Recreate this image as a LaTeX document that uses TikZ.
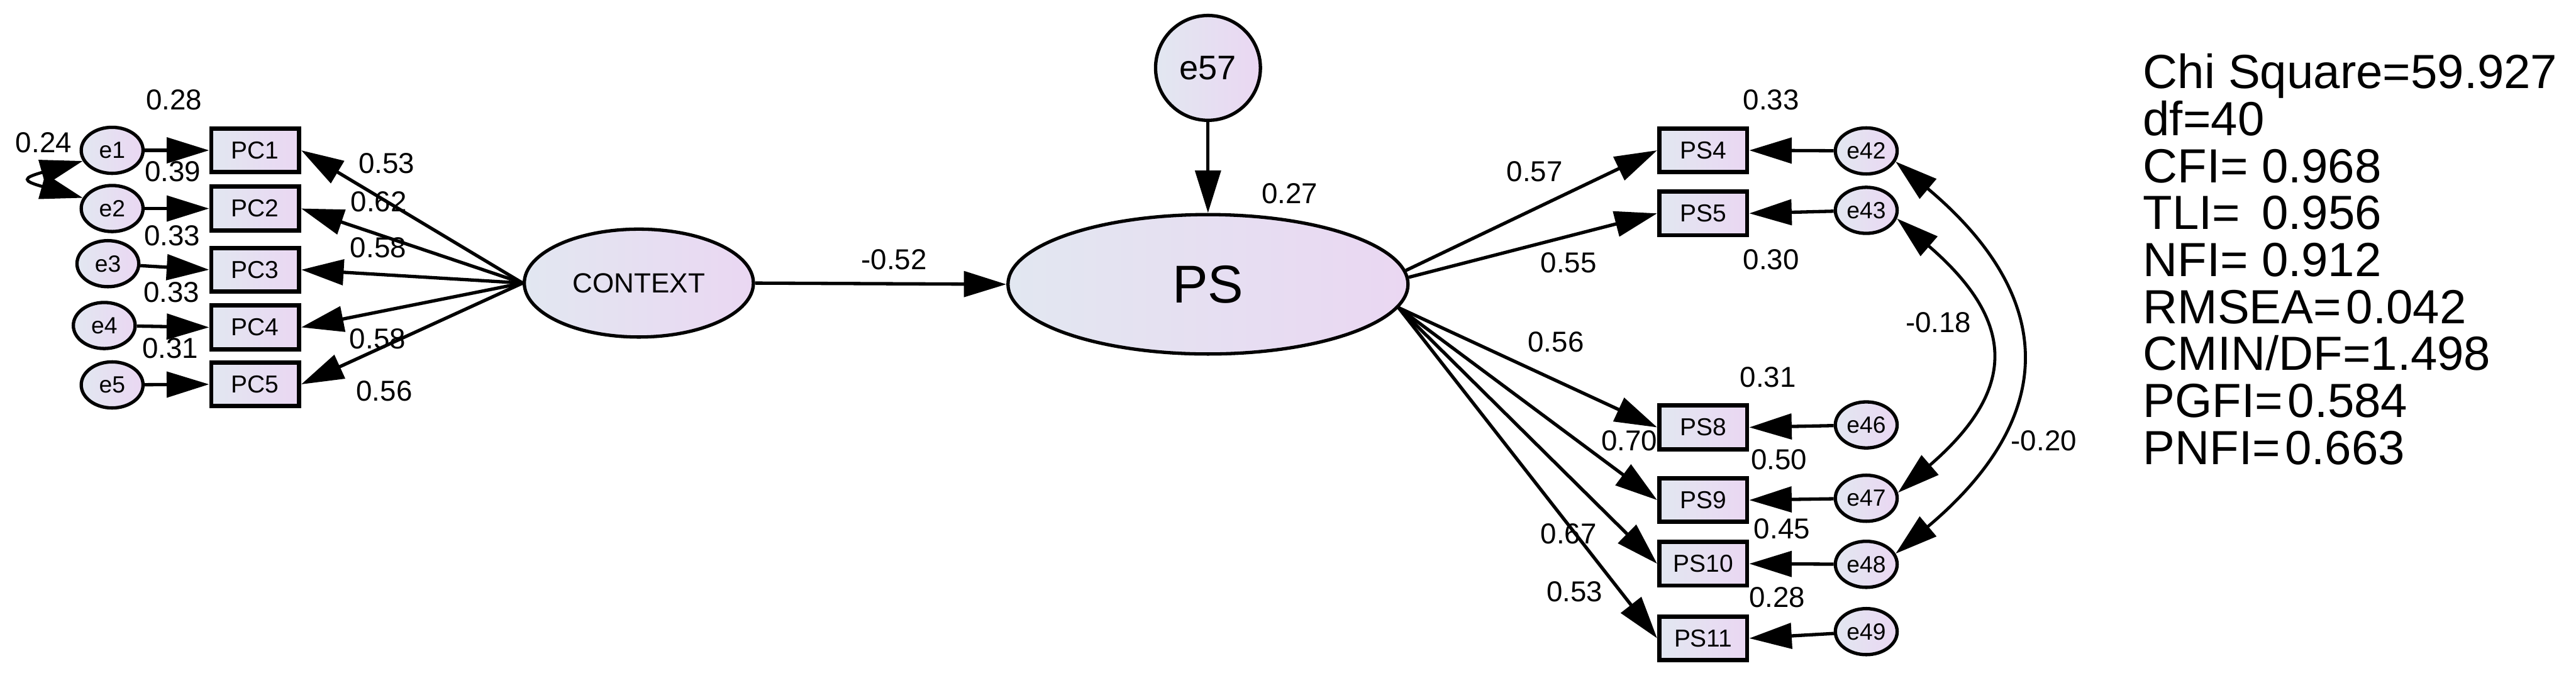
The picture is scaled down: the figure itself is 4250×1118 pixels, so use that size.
\documentclass[tikz,border=0pt]{standalone}
\usepackage{fontspec}
\setmainfont{Liberation Sans}
\usepackage{tikz}
\usetikzlibrary{shapes.geometric, arrows.meta, positioning, calc}

\definecolor{semleft}{RGB}{226,231,241}
\definecolor{semright}{RGB}{234,215,242}

\tikzset{
    obsbox/.style={draw, line width=0.7mm, left color=semleft, right color=semright,
        minimum width=14.5mm, minimum height=7.2mm, inner sep=0pt, font=\fontsize{11.5}{12}\selectfont},
    errnode/.style={ellipse, draw, line width=0.55mm, left color=semleft, right color=semright,
        minimum width=10.2mm, minimum height=7.6mm, inner sep=0pt, font=\fontsize{11}{12}\selectfont},
    latent/.style={ellipse, draw, line width=0.55mm, left color=semleft, right color=semright, inner sep=0pt},
    semarrow/.style={line width=0.55mm, -{Triangle[length=7mm, width=4.2mm]}},
    covarrow/.style={line width=0.5mm, {Triangle[length=7mm, width=4.2mm]}-{Triangle[length=7mm, width=4.2mm]}},
    est/.style={inner sep=0pt, font=\fontsize{13.5}{14}\selectfont},
    fitstat/.style={anchor=base west, inner sep=0pt, font=\fontsize{22.5}{24}\selectfont}
}

\begin{document}
\begin{tikzpicture}[x=0.1mm, y=-0.1mm]
    \useasboundingbox (0,0) rectangle (4250,1118);

    % Latent variables
    \node[latent, minimum width=37.8mm, minimum height=17.8mm, font=\fontsize{13}{14}\selectfont] (CONTEXT) at (1054,467) {CONTEXT};
    \node[latent, minimum width=66mm, minimum height=23mm, font=\fontsize{25}{28}\selectfont] (PS) at (1993,469) {PS};
    \node[latent, minimum width=17.3mm, minimum height=17.3mm, font=\fontsize{16}{18}\selectfont] (e57) at (1993,112) {e57};

    \draw[semarrow] (CONTEXT.east) -- (PS.west);
    \draw[semarrow] (e57) -- (PS);

    % CONTEXT indicators
    \foreach \i/\ex/\ey/\by in {1/185/248/248, 2/185/344/344, 3/178/435/445, 4/172/537/540, 5/185/635/634} {
        \node[obsbox] (PC\i) at (421,\by) {PC\i};
        \node[errnode] (e\i) at (\ex,\ey) {e\i};
        \draw[semarrow] (e\i) -- (PC\i.west);
        \draw[semarrow] (CONTEXT.west) -- (PC\i.east);
    }
    \draw[covarrow] (e1.200) .. controls +(-100,28) and +(-100,-28) .. (e2.160);

    % PS indicators
    \foreach \b/\e/\by/\ey in {4/42/248/249, 5/43/352/347, 8/46/705/701, 9/47/825/822, 10/48/930/931, 11/49/1053/1042} {
        \node[obsbox] (PS\b) at (2810,\by) {PS\b};
        \node[errnode] (e\e) at (3079,\ey) {e\e};
        \draw[semarrow] (e\e) -- (PS\b.east);
    }
    \draw[semarrow] (PS.4) -- (PS4.west);
    \draw[semarrow] (PS.2) -- (PS5.west);
    \foreach \b in {8,9,10,11}
        \draw[semarrow] (PS.-7) -- (PS\b.west);

    % Error covariances
    \draw[covarrow] (e42.-20) .. controls +(268,225) and +(268,-225) .. (e48.20);
    \draw[covarrow] (e43.-15) .. controls +(197,170) and +(197,-170) .. (e47.10);

    % Estimates
    \node[est] (c12) at (72,235) {0.24};
    \foreach \n/\x/\y/\v in {r1/287/165/0.28, r2/285/283/0.39, r3/284/389/0.33, r4/283/482/0.33, r5/281/575/0.31,
        l1/638/270/0.53, l2/625/333/0.62, l3/624/409/0.58, l4/623/559/0.58, l5/634/645/0.56}
        \node[est] (\n) at (\x,\y) {\v};
    \node[est] (b1) at (1475,428) {-0.52};
    \node[est] (r57) at (2128,319) {0.27};
    \foreach \n/\x/\y/\v in {l42/2532/283/0.57, l43/2588/433/0.55, l46/2567/564/0.56, l47/2688/727/0.70, l48/2588/881/0.67, l49/2598/976/0.53,
        r42/2922/165/0.33, r43/2922/428/0.30, r46/2917/622/0.31, r47/2935/758/0.50, r48/2940/872/0.45, r49/2932/985/0.28}
        \node[est] (\n) at (\x,\y) {\v};
    \node[est] (c4347) at (3198,532) {-0.18};
    \node[est] (c4248) at (3372,727) {-0.20};

    % Fit indices
    \foreach \t [count=\i] in {Chi Square=59.927, df=40, CFI= 0.968, {TLI= \hspace{0.17em}0.956}, NFI= 0.912, RMSEA=\hspace{0.1em}0.042, {CMIN/DF=1.498}, PGFI=\hspace{0.1em}0.584, PNFI=\hspace{0.1em}0.663}
        \node[fitstat] (fit\i) at (3535,{146+77.5*(\i-1)}) {\t};
\end{tikzpicture}
\end{document}
